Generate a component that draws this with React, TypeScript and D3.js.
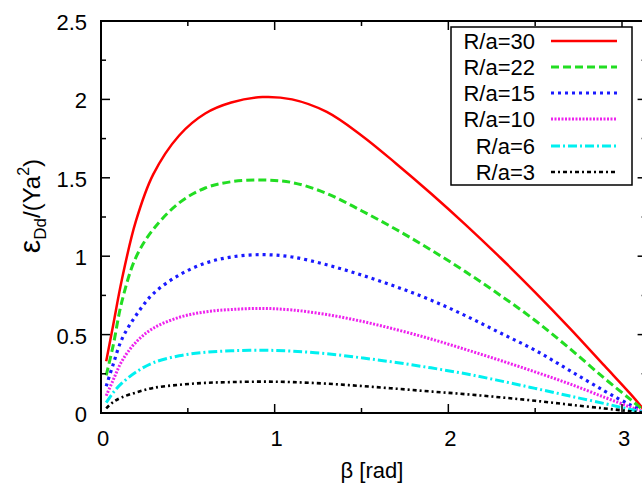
import React from "react";
import * as d3 from "d3";

const betas = [0.03, 0.07, 0.12, 0.2, 0.3, 0.45, 0.6, 0.75, 0.93, 1.1, 1.3, 1.5, 1.7, 1.9, 2.1, 2.3, 2.5, 2.7, 2.9, 3.05, 3.1416];

const r30 = [0.33, 0.56, 0.85, 1.22, 1.52, 1.77, 1.91, 1.98, 2.015, 2.0, 1.92, 1.77, 1.59, 1.4, 1.2, 0.99, 0.77, 0.54, 0.3, 0.12, 0.0];
const r22 = [0.24, 0.43, 0.71, 0.99, 1.17, 1.34, 1.435, 1.475, 1.486, 1.47, 1.4, 1.29, 1.17, 1.04, 0.9, 0.75, 0.59, 0.41, 0.22, 0.085, 0.0];
const r15 = [0.17, 0.31, 0.47, 0.62, 0.76, 0.88, 0.955, 0.995, 1.01, 0.995, 0.945, 0.88, 0.805, 0.72, 0.62, 0.51, 0.4, 0.27, 0.14, 0.05, 0.0];
const r10 = [0.11, 0.21, 0.33, 0.45, 0.54, 0.61, 0.645, 0.66, 0.667, 0.657, 0.628, 0.585, 0.532, 0.472, 0.405, 0.335, 0.262, 0.185, 0.1, 0.037, 0.0];
const r6 = [0.066, 0.13, 0.19, 0.26, 0.32, 0.365, 0.387, 0.397, 0.4, 0.395, 0.378, 0.352, 0.322, 0.288, 0.25, 0.205, 0.157, 0.108, 0.06, 0.022, 0.0];
const r3 = [0.03, 0.07, 0.1, 0.13, 0.16, 0.18, 0.192, 0.197, 0.2, 0.197, 0.187, 0.172, 0.155, 0.137, 0.12, 0.1, 0.078, 0.053, 0.029, 0.011, 0.0];

const seriesLabels = ["R/a=30", "R/a=22", "R/a=15", "R/a=10", "R/a=6", "R/a=3"];
const seriesValues = [r30, r22, r15, r10, r6, r3];
const seriesColors = ["#ff0000", "#22dd22", "#1a1aff", "#ee22ee", "#00f0f0", "#000000"];
const seriesDash = ["", "8,4", "3,4", "2,1.5", "9,3,2,3", "4,3,2,3"];
const seriesWidth = [2.5, 3, 3.2, 3, 3, 2.6];

const xTicks = [0, 1, 2, 3];
const xMinor = [0.5, 1.5, 2.5];
const yTicks = [0, 0.5, 1, 1.5, 2, 2.5];
const yMinor = [0.25, 0.75, 1.25, 1.75, 2.25];

export default function App() {
  const W = 642, H = 485;
  const left = 101, top = 21, bottom = 413;
  const x = d3.scaleLinear().domain([0, 3]).range([left, 622]);
  const right = x(Math.PI);
  const y = d3.scaleLinear().domain([0, 2.5]).range([bottom, top]);
  const line = d3.line<[number, number]>().x(d => x(d[0])).y(d => y(d[1])).curve(d3.curveCatmullRom.alpha(0.5));
  const font = "'Liberation Sans', Arial, Helvetica, sans-serif";
  const majorLen = 9, minorLen = 5;

  const legendRows = [41, 67, 93, 119, 146, 172];

  return (
    <svg width={W} height={H} style={{ position: "absolute", left: 0, top: 0, background: "#fff" }} fontFamily={font}>
      <defs>
        <clipPath id="plotclip">
          <rect x={left} y={top} width={right - left} height={bottom - top} />
        </clipPath>
      </defs>
      <g clipPath="url(#plotclip)">
        {seriesValues.map((vals, i) => (
          <path
            key={i}
            d={line(betas.map((b, j) => [b, vals[j]] as [number, number])) || ""}
            fill="none"
            stroke={seriesColors[i]}
            strokeWidth={seriesWidth[i]}
            strokeDasharray={seriesDash[i] || undefined}
          />
        ))}
      </g>
      <rect x={left} y={top} width={right - left} height={bottom - top} fill="none" stroke="#000" strokeWidth={2} />
      {xTicks.map(t => (
        <g key={"xt" + t}>
          <line x1={x(t)} x2={x(t)} y1={bottom} y2={bottom - majorLen} stroke="#000" strokeWidth={1.5} />
          <line x1={x(t)} x2={x(t)} y1={top} y2={top + majorLen} stroke="#000" strokeWidth={1.5} />
          <text x={x(t) + 2} y={446} textAnchor="middle" fontSize={22}>{t}</text>
        </g>
      ))}
      {xMinor.map(t => (
        <g key={"xm" + t}>
          <line x1={x(t)} x2={x(t)} y1={bottom} y2={bottom - minorLen} stroke="#000" strokeWidth={1.5} />
          <line x1={x(t)} x2={x(t)} y1={top} y2={top + minorLen} stroke="#000" strokeWidth={1.5} />
        </g>
      ))}
      {yTicks.map(t => (
        <g key={"yt" + t}>
          <line x1={left} x2={left + majorLen} y1={y(t)} y2={y(t)} stroke="#000" strokeWidth={1.5} />
          <line x1={right} x2={right - majorLen} y1={y(t)} y2={y(t)} stroke="#000" strokeWidth={1.5} />
          <text x={87} y={y(t) + 9} textAnchor="end" fontSize={22}>{t}</text>
        </g>
      ))}
      {yMinor.map(t => (
        <g key={"ym" + t}>
          <line x1={left} x2={left + minorLen} y1={y(t)} y2={y(t)} stroke="#000" strokeWidth={1.5} />
          <line x1={right} x2={right - minorLen} y1={y(t)} y2={y(t)} stroke="#000" strokeWidth={1.5} />
        </g>
      ))}
      <text x={372} y={478} textAnchor="middle" fontSize={22}>β [rad]</text>
      <text transform="translate(40,206) rotate(-90)" textAnchor="middle" fontSize={24}>
        <tspan fontSize={30}>ε</tspan>
        <tspan fontSize={17} dy={6}>Dd</tspan>
        <tspan dy={-6}>/(Ya</tspan>
        <tspan fontSize={16} dy={-11}>2</tspan>
        <tspan dy={11}>)</tspan>
      </text>
      <rect x={451} y={27} width={181} height={158} fill="#fff" stroke="#000" strokeWidth={1.5} />
      {seriesLabels.map((lab, i) => (
        <g key={"lg" + i}>
          <text x={535} y={legendRows[i] + 8} textAnchor="end" fontSize={22}>{lab}</text>
          <line x1={551} x2={617} y1={legendRows[i]} y2={legendRows[i]}
            stroke={seriesColors[i]} strokeWidth={seriesWidth[i]} strokeDasharray={seriesDash[i] || undefined} />
        </g>
      ))}
    </svg>
  );
}
